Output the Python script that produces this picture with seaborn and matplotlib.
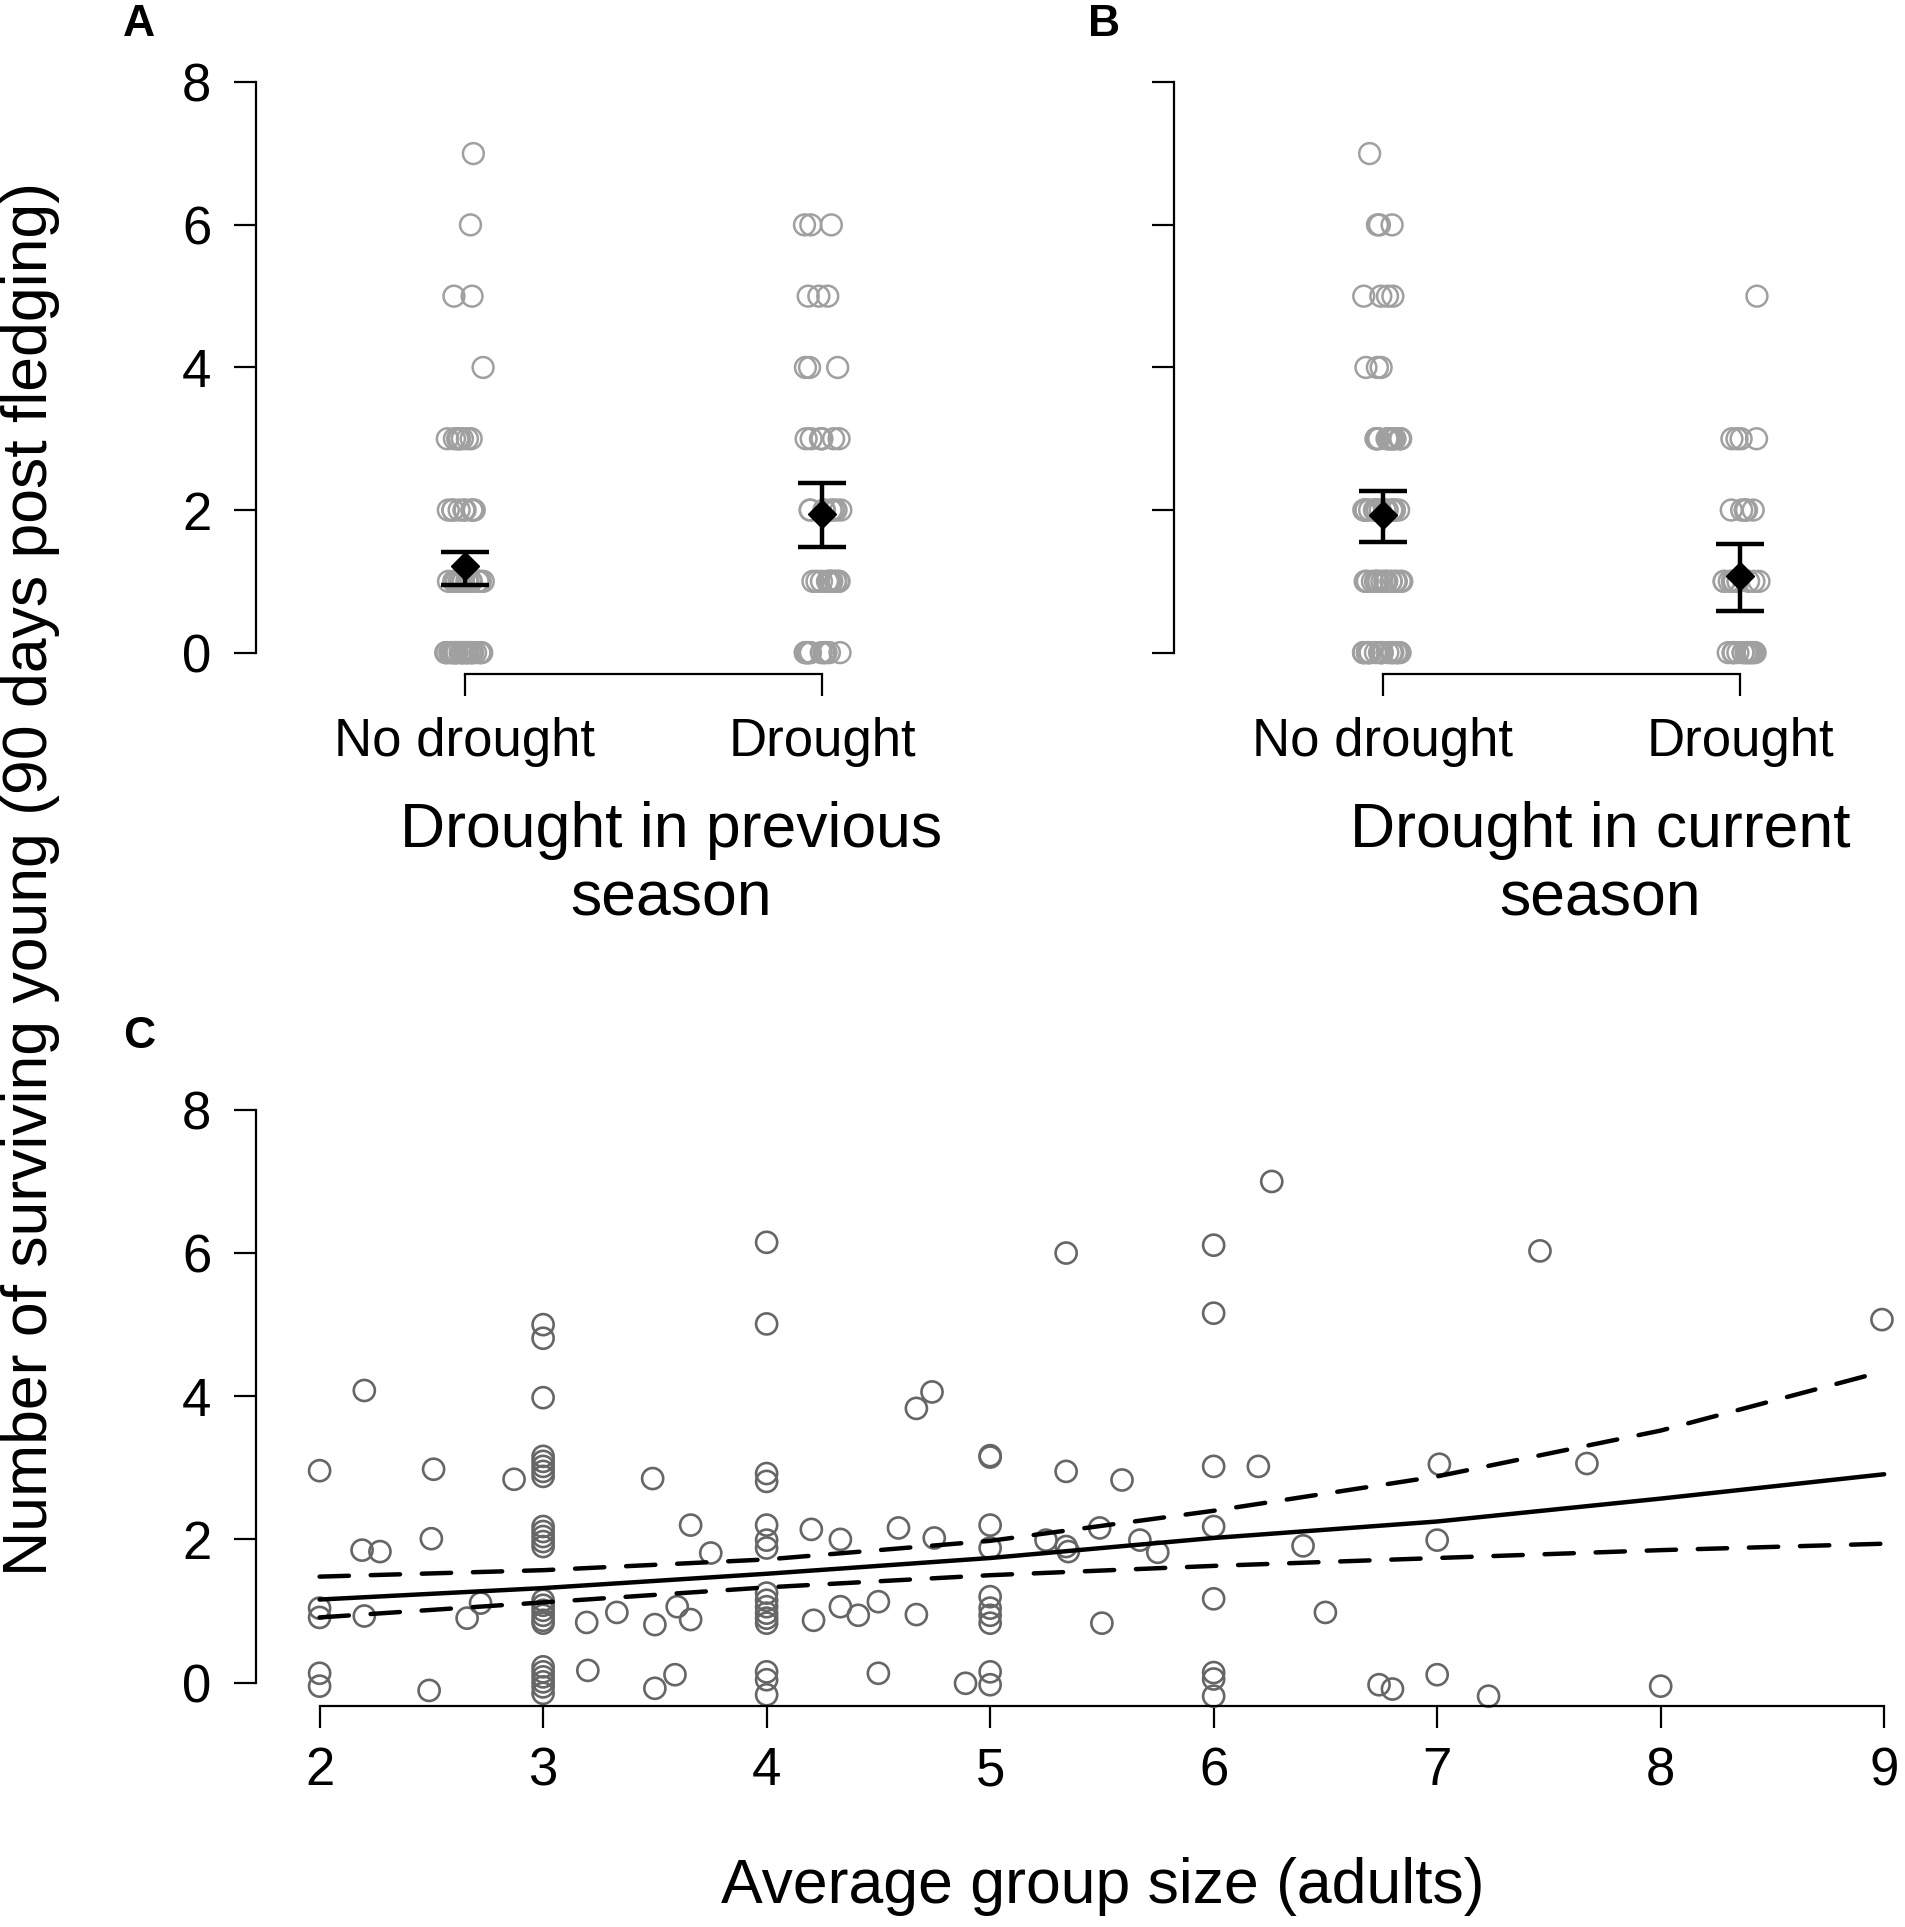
import numpy as np
import pandas as pd
import matplotlib
matplotlib.use("Agg")
import matplotlib.pyplot as plt
import seaborn as sns

# ---------------- data ----------------
categories = ["No drought", "Drought"]
young_values = [0, 1, 2, 3, 4, 5, 6, 7]

# Panel A: counts of broods at each number of surviving young
countsA_no = [30, 20, 10, 8, 1, 2, 1, 1]
countsA_dr = [13, 12, 8, 7, 3, 3, 3, 0]
# Panel B
countsB_no = [21, 18, 20, 16, 3, 4, 3, 1]
countsB_dr = [15, 10, 6, 4, 0, 1, 0, 0]

# model means and 95% CI
meanA = [1.21, 1.95]
loA = [0.95, 1.48]
hiA = [1.41, 2.38]
meanB = [1.93, 1.07]
loB = [1.55, 0.59]
hiB = [2.26, 1.52]

# Panel C: average group size vs surviving young
group_size = [2.0, 2.0, 2.0, 2.0, 2.0, 2.2, 2.19, 2.27, 2.2, 2.51, 2.50, 2.49, 2.66, 2.72, 2.87,
              3.0, 3.0, 3.0, 3.0, 3.0, 3.0, 3.0, 3.0, 3.0, 3.0, 3.0, 3.0, 3.0, 3.0, 3.0, 3.0, 3.0, 3.0,
              3.0, 3.0, 3.0, 3.0, 3.0, 3.0, 3.0,
              3.195, 3.2, 3.33, 3.49, 3.50, 3.5, 3.6, 3.59, 3.66, 3.66, 3.75,
              4.0, 4.0, 4.0, 4.0, 4.0, 4.0, 4.0, 4.0, 4.0, 4.0, 4.0, 4.0, 4.0, 4.0, 4.0, 4.0,
              4.20, 4.21, 4.33, 4.33, 4.41, 4.50, 4.50, 4.59, 4.67, 4.74, 4.67, 4.75, 4.89,
              5.0, 5.0, 5.0, 5.0, 5.0, 5.0, 5.0, 5.0, 5.0, 5.0,
              5.25, 5.34, 5.34, 5.34, 5.35, 5.5, 5.49, 5.59, 5.67, 5.75,
              6.0, 6.0, 6.0, 6.0, 6.0, 6.0, 6.0, 6.0,
              6.2, 6.26, 6.40, 6.5, 6.74, 6.80, 7.01, 7.0, 7.0, 7.23, 7.46, 7.67, 8.0, 8.99]
surviving = [2.96, 1.04, 0.91, 0.13, -0.05, 4.08, 1.85, 1.83, 0.93, 2.98, 2.01, -0.11, 0.90, 1.11, 2.84,
             5.0, 4.81, 3.98, 3.16, 3.09, 3.02, 2.95, 2.88, 2.18, 2.11, 2.04, 1.97, 1.90, 1.15, 1.08, 1.01,
             0.94, 0.87, 0.83, 0.22, 0.15, 0.08, 0.01, -0.06, -0.15,
             0.84, 0.17, 0.98, 2.85, 0.81, -0.08, 1.06, 0.11, 2.20, 0.88, 1.81,
             6.15, 5.01, 2.92, 2.81, 2.20, 1.99, 1.88, 1.25, 1.15, 1.06, 0.97, 0.90, 0.83, 0.15, 0.04, -0.17,
             2.14, 0.87, 2.0, 1.06, 0.94, 1.13, 0.13, 2.16, 3.83, 4.06, 0.95, 2.02, -0.01,
             3.17, 3.15, 2.20, 1.88, 1.20, 1.04, 0.94, 0.83, 0.15, -0.03,
             1.99, 6.0, 2.95, 1.90, 1.83, 0.83, 2.16, 2.83, 1.99, 1.82,
             6.11, 5.16, 3.02, 2.18, 1.17, 0.14, 0.05, -0.19,
             3.02, 7.0, 1.91, 0.98, -0.03, -0.09, 3.05, 1.99, 0.11, -0.19, 6.03, 3.06, -0.05, 5.07]

fit_x = [2, 3, 4, 5, 6, 7, 8, 9]
fit_mean = [1.16, 1.32, 1.52, 1.74, 2.02, 2.25, 2.57, 2.91]
fit_upper = [1.48, 1.57, 1.72, 1.98, 2.40, 2.88, 3.52, 4.35]
fit_lower = [0.91, 1.12, 1.33, 1.50, 1.63, 1.74, 1.85, 1.94]

yticks = [0, 2, 4, 6, 8]
xticksC = [2, 3, 4, 5, 6, 7, 8, 9]

# ---------------- style ----------------
sns.set_style("ticks")
plt.rcParams["font.family"] = ["Liberation Sans", "DejaVu Sans"]
plt.rcParams["text.color"] = "black"
plt.rcParams["axes.labelcolor"] = "black"
plt.rcParams["xtick.color"] = "black"
plt.rcParams["ytick.color"] = "black"

W, H = 1905, 1927
fig = plt.figure(figsize=(W / 100, H / 100), dpi=100)

def rect(left, top, right, bottom):
    return [left / W, 1 - bottom / H, (right - left) / W, (bottom - top) / H]

PX = 72 / 100  # px -> pt
LIGHT = "#a0a0a0"
DARK = "#666666"
TICK_FS = 38
TITLE_FS = 45
AXLW = 1.6
TICKLEN = 22 * PX
LW = 3.2


def make_df(counts_no, counts_dr):
    y_no = np.repeat(young_values, counts_no)
    y_dr = np.repeat(young_values, counts_dr)
    return pd.DataFrame({
        "group": [categories[0]] * len(y_no) + [categories[1]] * len(y_dr),
        "young": np.concatenate([y_no, y_dr]),
    })


def cat_panel(ax, df, means, lo, hi, seed, show_labels):
    np.random.seed(seed)
    sns.stripplot(data=df, x="group", y="young", order=categories, jitter=0.055,
                  size=15, color=LIGHT, linewidth=1.8, ax=ax, zorder=2)
    for c in ax.collections:
        c.set_facecolor("none")
        c.set_edgecolor(LIGHT)
        c.set_linewidth(1.8)
        c.set_clip_on(False)
    xs = [0, 1]
    yerr = [np.array(means) - np.array(lo), np.array(hi) - np.array(means)]
    ax.errorbar(xs, means, yerr=yerr, fmt="none", ecolor="black", elinewidth=LW,
                capsize=17.6, capthick=LW, zorder=4)
    ax.plot(xs, means, ls="none", marker="D", ms=14, color="black", zorder=5)
    ax.set_xlim(-0.45, 1.45)
    ax.set_ylim(-0.3, 8.3)
    ax.set_yticks(yticks)
    ax.set_xlabel("")
    ax.set_ylabel("")
    for s in ["top", "right"]:
        ax.spines[s].set_visible(False)
    ax.spines["left"].set_bounds(0, 8)
    ax.spines["bottom"].set_bounds(0, 1)
    ax.spines["left"].set_position(("outward", 47.9 * PX))
    for s in ["left", "bottom"]:
        ax.spines[s].set_linewidth(AXLW)
        ax.spines[s].set_color("black")
    ax.tick_params(axis="y", length=TICKLEN, width=AXLW, labelsize=TICK_FS, pad=16,
                   labelleft=show_labels, colors="black")
    ax.tick_params(axis="x", length=TICKLEN, width=AXLW, labelsize=TICK_FS, pad=15, colors="black")


axA = fig.add_axes(rect(303.6, 60.9, 983.2, 674.0))
axB = fig.add_axes(rect(1221.7, 60.9, 1901.3, 674.0))
cat_panel(axA, make_df(countsA_no, countsA_dr), meanA, loA, hiA, 3, True)
cat_panel(axB, make_df(countsB_no, countsB_dr), meanB, loB, hiB, 11, False)

# Panel C
axC = fig.add_axes(rect(274.9, 1088.4, 1897.6, 1706.2))
sns.scatterplot(x=group_size, y=surviving, ax=axC, s=230, color=DARK, linewidth=1.9, zorder=2)
for c in axC.collections:
    c.set_facecolor("none")
    c.set_edgecolor(DARK)
    c.set_linewidth(1.9)
    c.set_clip_on(False)
sns.lineplot(x=fit_x, y=fit_mean, ax=axC, color="black", lw=LW, zorder=3)
for band in (fit_upper, fit_lower):
    sns.lineplot(x=fit_x, y=band, ax=axC, color="black", lw=LW, zorder=3,
                 ls=(0, (6.6, 4.9)), dash_capstyle="round")
axC.set_xlim(1.8, 9.06)
axC.set_ylim(-0.33, 8.3)
axC.set_xticks(xticksC)
axC.set_yticks(yticks)
axC.set_xlabel("")
axC.set_ylabel("")
for s in ["top", "right"]:
    axC.spines[s].set_visible(False)
axC.spines["left"].set_bounds(0, 8)
axC.spines["bottom"].set_bounds(2, 9)
axC.spines["left"].set_position(("outward", 19.2 * PX))
for s in ["left", "bottom"]:
    axC.spines[s].set_linewidth(AXLW)
    axC.spines[s].set_color("black")
axC.tick_params(axis="y", length=TICKLEN, width=AXLW, labelsize=TICK_FS, pad=16, colors="black")
axC.tick_params(axis="x", length=TICKLEN, width=AXLW, labelsize=TICK_FS, pad=13, colors="black")

# ---------------- text ----------------
def ftext(x, y, s, **kw):
    fig.text(x / W, 1 - y / H, s, color="black", **kw)

ftext(671, 864.5, "Drought in previous\nseason", ha="center", va="center",
      fontsize=TITLE_FS, linespacing=1.2)
ftext(1600, 864.5, "Drought in current\nseason", ha="center", va="center",
      fontsize=TITLE_FS, linespacing=1.2)
ftext(1102.5, 1886.7, "Average group size (adults)", ha="center", va="center", fontsize=TITLE_FS)
ftext(30.7, 879, "Number of surviving young (90 days post fledging)", ha="center", va="center",
      rotation=90, fontsize=TITLE_FS)
ftext(138.9, 24.6, "A", ha="center", va="center", fontsize=32, fontweight="bold")
ftext(1103.8, 24.6, "B", ha="center", va="center", fontsize=32, fontweight="bold")
ftext(138.9, 1036.1, "C", ha="center", va="center", fontsize=32, fontweight="bold")

fig.savefig("out.png", dpi=100, facecolor="white")
